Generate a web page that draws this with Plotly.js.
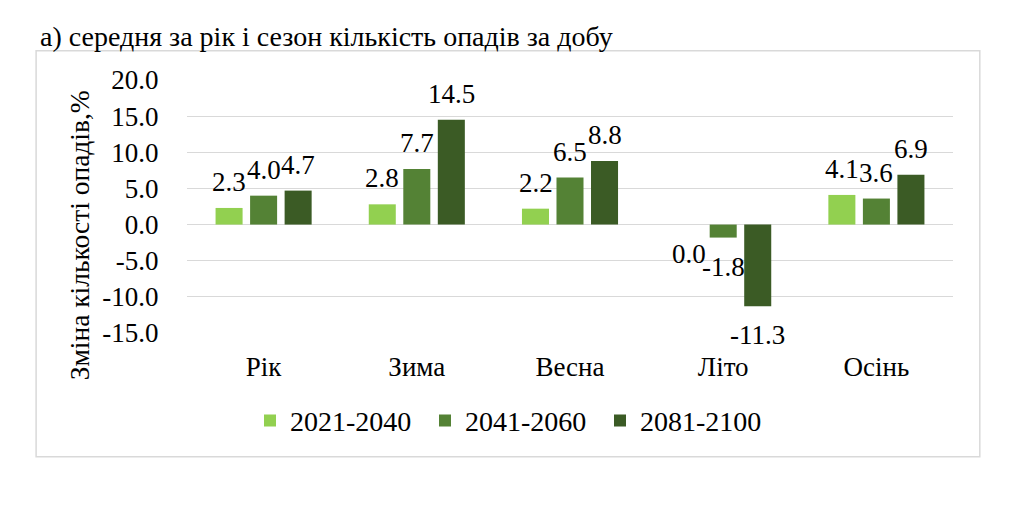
<!DOCTYPE html>
<html>
<head>
<meta charset="utf-8">
<script src="https://cdn.plot.ly/plotly-3.0.1.min.js"></script>
<style>
  html, body { margin: 0; padding: 0; background: #fff; }
  #chart { width: 1024px; height: 517px; }
</style>
</head>
<body>
<div id="chart"></div>
<script>
// categories and series
var seasons = ['Рік', 'Зима', 'Весна', 'Літо', 'Осінь']
var periods = ['2021-2040', '2041-2060', '2081-2100']
var p2021 = [2.3, 2.8, 2.2, 0.0, 4.1]
var p2041 = [4.0, 7.7, 6.5, -1.8, 3.6]
var p2081 = [4.7, 14.5, 8.8, -11.3, 6.9]
var yTicks = [20, 15, 10, 5, 0, -5, -10, -15]

var colors = ['#92d050', '#548235', '#3b5b25']
var font = 'Liberation Serif'

var series = [p2021, p2041, p2081]
var data = []
var notes = []
var slot = 34.5

for (var j = 0; j < series.length; j++) {
  data.push({
    type: 'bar',
    name: periods[j],
    x: seasons,
    y: series[j],
    marker: {color: colors[j]},
    hoverinfo: 'x+y+name'
  })
  // data labels, Excel style (above positive bars, below negative/zero)
  for (var i = 0; i < seasons.length; i++) {
    var v = series[j][i]
    var up = v > 0
    notes.push({
      x: seasons[i],
      y: v,
      xref: 'x', yref: 'y',
      text: v.toFixed(1),
      showarrow: false,
      xshift: (j - 1) * slot,
      yanchor: up ? 'bottom' : 'top',
      yshift: up ? 9 : -12,
      font: {family: font, size: 27, color: '#000'}
    })
  }
}

// y axis title, placed like the original (slightly below the plot centre)
notes.push({
  xref: 'paper', yref: 'paper',
  x: -0.14, y: 0.385,
  xanchor: 'center', yanchor: 'middle',
  text: 'Зміна кількості опадів,%',
  textangle: -90,
  showarrow: false,
  font: {family: font, size: 27.5, color: '#000'}
})

var layout = {
  width: 1024,
  height: 517,
  margin: {l: 187, r: 71, t: 80, b: 184},
  paper_bgcolor: '#fff',
  plot_bgcolor: '#fff',
  font: {family: font, size: 26, color: '#000'},
  showlegend: true,
  title: {
    text: 'а) середня за рік і сезон кількість опадів за добу',
    x: 40 / 1024,
    xref: 'container',
    xanchor: 'left',
    y: 1 - 36 / 517,
    yref: 'container',
    yanchor: 'middle',
    font: {family: font, size: 28, color: '#000'}
  },
  barmode: 'group',
  bargap: 0.324,
  bargroupgap: 0.217,
  xaxis: {
    showgrid: false,
    zeroline: false,
    showline: false,
    ticks: 'outside',
    ticklen: 10,
    tickcolor: 'rgba(0,0,0,0)',
    tickfont: {family: font, size: 27, color: '#000'}
  },
  yaxis: {
    range: [-15, 20],
    tickvals: yTicks,
    ticktext: yTicks.map(function(t) { return t.toFixed(1) }),
    showgrid: true,
    gridcolor: '#d9d9d9',
    gridwidth: 1,
    zeroline: false,
    showline: false,
    ticks: 'outside',
    ticklen: 22,
    tickcolor: 'rgba(0,0,0,0)',
    tickfont: {family: font, size: 27, color: '#000'}
  },
  legend: {
    orientation: 'h',
    x: (250 - 187) / 766,
    xanchor: 'left',
    y: -0.347,
    yanchor: 'middle',
    entrywidth: 130,
    entrywidthmode: 'pixels',
    font: {family: font, size: 28, color: '#000'},
    itemclick: false
  },
  annotations: notes,
  shapes: [{
    type: 'rect',
    xref: 'paper', yref: 'paper',
    x0: -0.197, x1: 1.035,
    y0: -0.489, y1: 1.116,
    line: {color: '#d9d9d9', width: 1.5},
    layer: 'below'
  }]
}

Plotly.newPlot('chart', data, layout, {displayModeBar: false, staticPlot: true})
</script>
</body>
</html>
